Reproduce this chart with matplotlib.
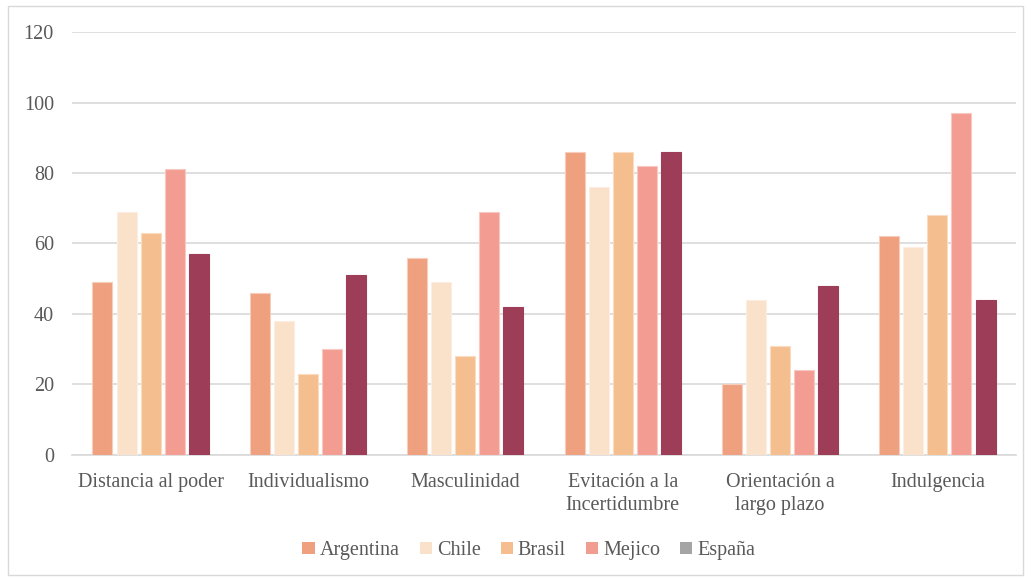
import matplotlib
matplotlib.use("Agg")
import matplotlib.pyplot as plt
import numpy as np
from matplotlib.patches import Patch, Rectangle

categories = ["Distancia al poder", "Individualismo", "Masculinidad",
              "Evitación a la\nIncertidumbre", "Orientación a\nlargo plazo", "Indulgencia"]
series_names = ["Argentina", "Chile", "Brasil", "Mejico", "España"]
argentina = [49, 46, 56, 86, 20, 62]
chile = [69, 38, 49, 76, 44, 59]
brasil = [63, 23, 28, 86, 31, 68]
mejico = [81, 30, 69, 82, 24, 97]
espana = [57, 51, 42, 86, 48, 44]
yticks = [0, 20, 40, 60, 80, 100, 120]

values = [argentina, chile, brasil, mejico, espana]
bar_colors = ["#EFA07F", "#FAE1CA", "#F5BE8E", "#F39D92", "#9E3D58"]
edge_colors = ["#F7CDBB", "#FCEEE2", "#F9DCC2", "#F8C9C2", "#9E3D58"]
legend_colors = ["#EFA07F", "#FAE1CA", "#F5BE8E", "#F39D92", "#A5A5A5"]
text_color = "#595959"
fs = 14.5

plt.rcParams["font.family"] = ["Liberation Serif", "DejaVu Serif"]

fig = plt.figure(figsize=(10.31, 5.79), dpi=100)
ax = fig.add_axes([0.0698, 0.2142, 0.9157, 0.7305])

x = np.arange(len(categories))
pitch = 0.153
width = 0.127
for i, (vals, c, ec) in enumerate(zip(values, bar_colors, edge_colors)):
    offs = (i - 2) * pitch
    ax.bar(x + offs, vals, width=width, color=c, edgecolor=ec,
           linewidth=0.8, zorder=3)

ax.set_xlim(-0.5, len(categories) - 0.5)
ax.set_ylim(0, 120)
ax.set_yticks(yticks)
ax.set_xticks(x)
ax.set_xticklabels(categories, fontsize=fs, color=text_color, linespacing=1.28)
ax.tick_params(axis="y", length=0, pad=13, labelsize=fs, labelcolor=text_color)
ax.tick_params(axis="x", length=0, pad=13)
ax.grid(axis="y", color="#D9D9D9", linewidth=1.2, zorder=0)
for s in ["top", "right", "left"]:
    ax.spines[s].set_visible(False)
ax.spines["bottom"].set_color("#D9D9D9")
ax.spines["bottom"].set_linewidth(1.2)

handles = [Patch(facecolor=c, edgecolor="none") for c in legend_colors]
fig.legend(handles, series_names, loc="center", bbox_to_anchor=(0.513, 0.049),
           ncol=5, frameon=False, fontsize=fs, labelcolor=text_color,
           handlelength=0.6, handleheight=0.6, handletextpad=0.25,
           columnspacing=1.0)

fig.patches.append(Rectangle((8 / 1031, 4 / 579), 1 - 16 / 1031, 1 - 10 / 579,
                             transform=fig.transFigure, fill=False,
                             edgecolor="#D9D9D9", linewidth=1.0))

fig.savefig("out.png", dpi=100)
